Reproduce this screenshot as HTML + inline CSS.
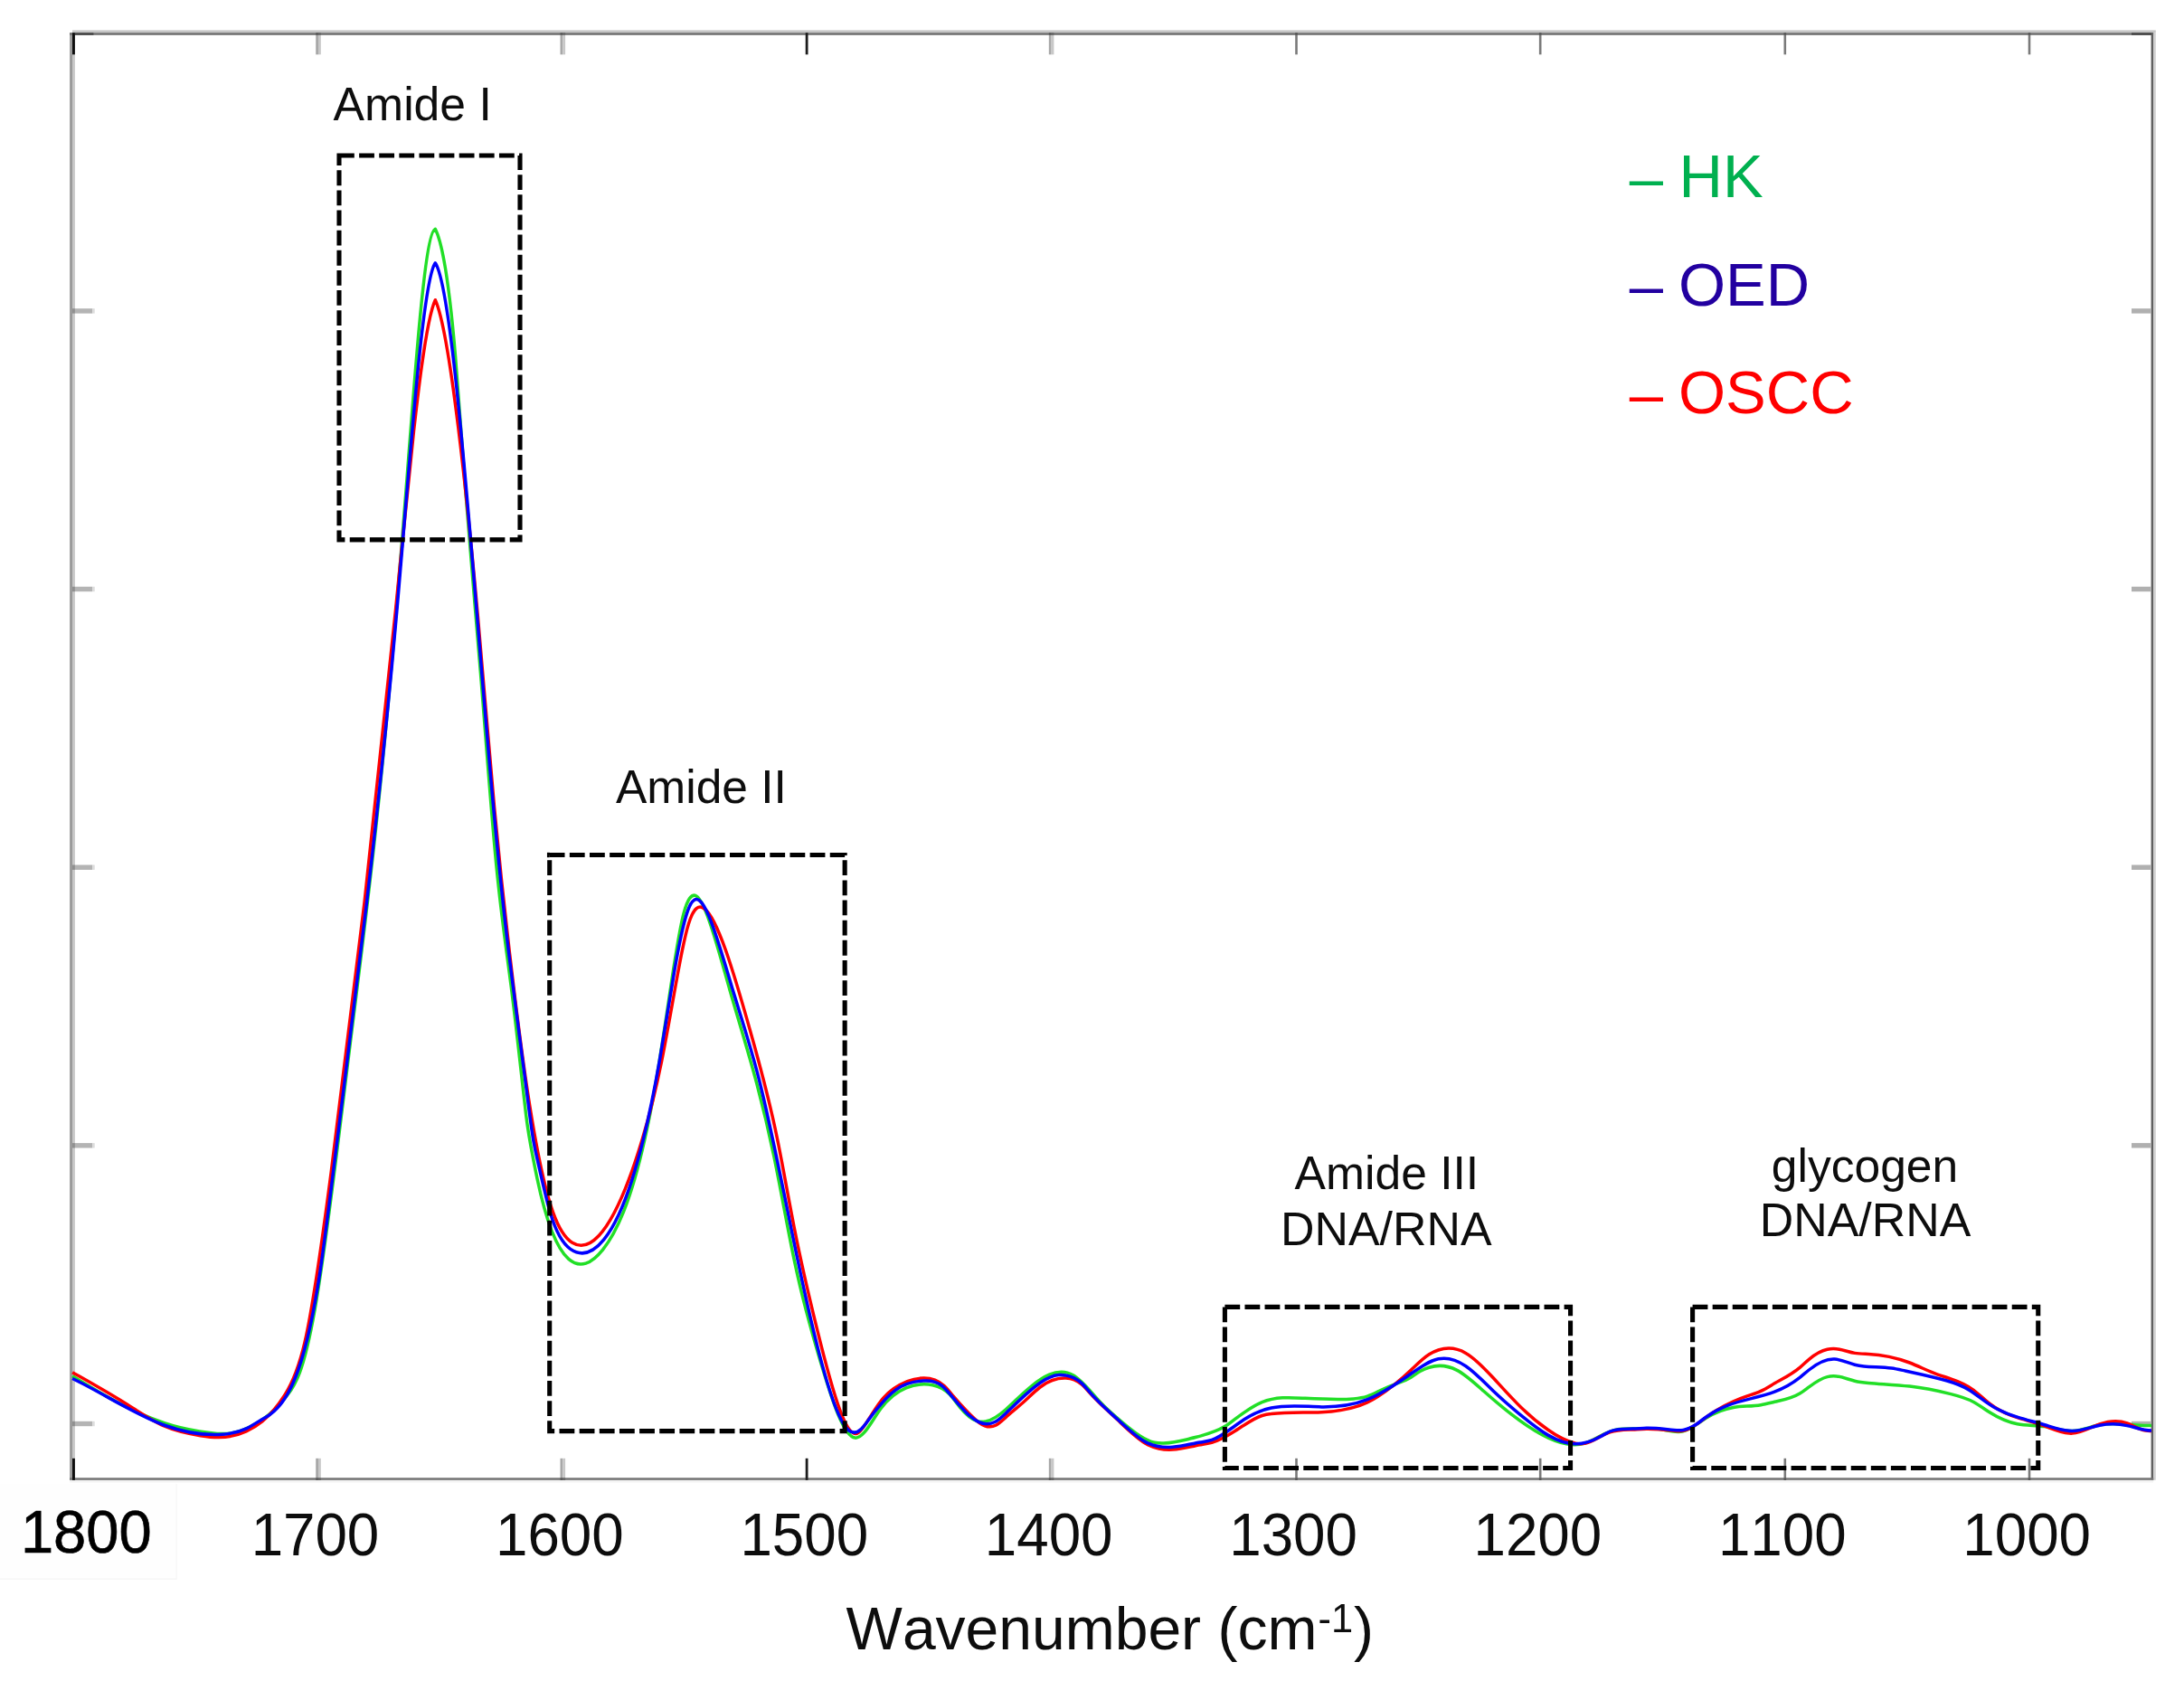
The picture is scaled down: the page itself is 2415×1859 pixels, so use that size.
<!DOCTYPE html>
<html><head><meta charset="utf-8"><title>FTIR spectra</title>
<style>html,body{margin:0;padding:0;background:#fff}svg{display:block}text{font-kerning:none;font-variant-ligatures:none}</style></head>
<body>
<svg width="2415" height="1859" viewBox="0 0 2415 1859" font-family="'Liberation Sans', Arial, Helvetica, sans-serif" style="font-kerning:none">
<defs><filter id="soft" x="0" y="0" width="2415" height="1859" filterUnits="userSpaceOnUse"><feGaussianBlur stdDeviation="0.7"/></filter></defs>
<rect x="0" y="0" width="2415" height="1859" fill="#ffffff"/>
<g filter="url(#soft)">
<rect x="0" y="1641" width="195.5" height="105.5" fill="#fefefe"/>
<rect x="194.5" y="1641" width="1.2" height="105.5" fill="#f6f6f6"/>
<rect x="0" y="1745.6" width="195.5" height="1.2" fill="#f6f6f6"/>
<g>
<rect x="77.1" y="36.2" width="2.9" height="1600.6" fill="#9a9a9a"/>
<rect x="80" y="36.2" width="2.9" height="1600.6" fill="#c8c8c8"/>
<rect x="80" y="33.4" width="2303.8" height="2.8" fill="#c6c6c6"/>
<rect x="77.1" y="36.2" width="2304.2" height="2.6" fill="#707070"/>
<rect x="2378.6" y="36.2" width="2.7" height="1600.6" fill="#606060"/>
<rect x="2381.3" y="36.2" width="2.5" height="1600.6" fill="#d0d0d0"/>
<rect x="77.1" y="1634.3" width="2304.2" height="2.6" fill="#737373"/>
<rect x="77.1" y="1636.9" width="2304.2" height="2.6" fill="#f4f4f4"/>
<rect x="80" y="36.2" width="2.9" height="24.1" fill="#111111"/>
<rect x="80" y="1612.8" width="2.9" height="24.1" fill="#111111"/>
<rect x="349.2" y="38.8" width="2.8" height="21.5" fill="#a8a8a8"/>
<rect x="352.0" y="38.8" width="2.8" height="21.5" fill="#c8c8c8"/>
<rect x="349.2" y="36.2" width="2.8" height="2.6" fill="#585858"/>
<rect x="352.0" y="36.2" width="2.8" height="2.6" fill="#666666"/>
<rect x="349.2" y="1612.8" width="2.8" height="21.5" fill="#a8a8a8"/>
<rect x="352.0" y="1612.8" width="2.8" height="21.5" fill="#c8c8c8"/>
<rect x="349.2" y="1634.3" width="2.8" height="2.6" fill="#585858"/>
<rect x="352.0" y="1634.3" width="2.8" height="2.6" fill="#666666"/>
<rect x="619.5" y="38.8" width="2.8" height="21.5" fill="#a8a8a8"/>
<rect x="622.3" y="38.8" width="2.8" height="21.5" fill="#c8c8c8"/>
<rect x="619.5" y="36.2" width="2.8" height="2.6" fill="#585858"/>
<rect x="622.3" y="36.2" width="2.8" height="2.6" fill="#666666"/>
<rect x="619.5" y="1612.8" width="2.8" height="21.5" fill="#a8a8a8"/>
<rect x="622.3" y="1612.8" width="2.8" height="21.5" fill="#c8c8c8"/>
<rect x="619.5" y="1634.3" width="2.8" height="2.6" fill="#585858"/>
<rect x="622.3" y="1634.3" width="2.8" height="2.6" fill="#666666"/>
<rect x="890.7" y="36.2" width="2.8" height="24.1" fill="#1c1c1c"/>
<rect x="890.7" y="1612.8" width="2.8" height="24.1" fill="#1c1c1c"/>
<rect x="1159.8" y="38.8" width="2.8" height="21.5" fill="#a8a8a8"/>
<rect x="1162.6" y="38.8" width="2.8" height="21.5" fill="#c8c8c8"/>
<rect x="1159.8" y="36.2" width="2.8" height="2.6" fill="#585858"/>
<rect x="1162.6" y="36.2" width="2.8" height="2.6" fill="#666666"/>
<rect x="1159.8" y="1612.8" width="2.8" height="21.5" fill="#a8a8a8"/>
<rect x="1162.6" y="1612.8" width="2.8" height="21.5" fill="#c8c8c8"/>
<rect x="1159.8" y="1634.3" width="2.8" height="2.6" fill="#585858"/>
<rect x="1162.6" y="1634.3" width="2.8" height="2.6" fill="#666666"/>
<rect x="1432.2" y="38.8" width="2.6" height="21.5" fill="#7a7a7a"/>
<rect x="1432.2" y="36.2" width="2.6" height="2.6" fill="#555555"/>
<rect x="1432.2" y="1612.8" width="2.6" height="21.5" fill="#7a7a7a"/>
<rect x="1432.2" y="1634.3" width="2.6" height="2.6" fill="#555555"/>
<rect x="1701.9" y="38.8" width="2.6" height="21.5" fill="#7a7a7a"/>
<rect x="1701.9" y="36.2" width="2.6" height="2.6" fill="#555555"/>
<rect x="1701.9" y="1612.8" width="2.6" height="21.5" fill="#7a7a7a"/>
<rect x="1701.9" y="1634.3" width="2.6" height="2.6" fill="#555555"/>
<rect x="1972.5" y="38.8" width="2.6" height="21.5" fill="#7a7a7a"/>
<rect x="1972.5" y="36.2" width="2.6" height="2.6" fill="#555555"/>
<rect x="1972.5" y="1612.8" width="2.6" height="21.5" fill="#7a7a7a"/>
<rect x="1972.5" y="1634.3" width="2.6" height="2.6" fill="#555555"/>
<rect x="2242.7" y="38.8" width="2.6" height="21.5" fill="#7a7a7a"/>
<rect x="2242.7" y="36.2" width="2.6" height="2.6" fill="#555555"/>
<rect x="2242.7" y="1612.8" width="2.6" height="21.5" fill="#7a7a7a"/>
<rect x="2242.7" y="1634.3" width="2.6" height="2.6" fill="#555555"/>
<rect x="82.9" y="36.2" width="20.5" height="2.6" fill="#4a4a4a"/>
<rect x="2357" y="36.2" width="22" height="2.6" fill="#4a4a4a"/>
<rect x="82.9" y="341.2" width="19.4" height="5.4" fill="#b4b4b4"/>
<rect x="102.3" y="341.2" width="2.4" height="5.4" fill="#dcdcdc"/>
<rect x="80" y="341.2" width="2.9" height="5.4" fill="#909090"/>
<rect x="2357" y="341.2" width="21.6" height="5.4" fill="#b0b0b0"/>
<rect x="82.9" y="648.8" width="19.4" height="5.4" fill="#b4b4b4"/>
<rect x="102.3" y="648.8" width="2.4" height="5.4" fill="#dcdcdc"/>
<rect x="80" y="648.8" width="2.9" height="5.4" fill="#909090"/>
<rect x="2357" y="648.8" width="21.6" height="5.4" fill="#b0b0b0"/>
<rect x="82.9" y="956.5" width="19.4" height="5.4" fill="#b4b4b4"/>
<rect x="102.3" y="956.5" width="2.4" height="5.4" fill="#dcdcdc"/>
<rect x="80" y="956.5" width="2.9" height="5.4" fill="#909090"/>
<rect x="2357" y="956.5" width="21.6" height="5.4" fill="#b0b0b0"/>
<rect x="82.9" y="1264.1" width="19.4" height="5.4" fill="#b4b4b4"/>
<rect x="102.3" y="1264.1" width="2.4" height="5.4" fill="#dcdcdc"/>
<rect x="80" y="1264.1" width="2.9" height="5.4" fill="#909090"/>
<rect x="2357" y="1264.1" width="21.6" height="5.4" fill="#b0b0b0"/>
<rect x="82.9" y="1571.8" width="19.4" height="5.4" fill="#b4b4b4"/>
<rect x="102.3" y="1571.8" width="2.4" height="5.4" fill="#dcdcdc"/>
<rect x="80" y="1571.8" width="2.9" height="5.4" fill="#909090"/>
<rect x="2357" y="1571.8" width="21.6" height="5.4" fill="#b0b0b0"/>
</g>
<path d="M80.1,1521.8C117.2,1544.7 154.3,1566.2 191.4,1576.6C204.9,1580.4 218.3,1582.7 231.8,1584.4C238.5,1585.3 245.3,1586.0 252.0,1585.4C262.1,1584.5 272.3,1580.7 282.4,1574.8C294.4,1567.9 306.4,1558.1 318.4,1542.0C322.7,1536.3 327.0,1529.7 331.3,1518.1C336.8,1503.3 342.4,1480.3 347.9,1449.4C360.1,1381.3 372.3,1275.2 384.5,1176.2C395.4,1087.4 406.4,1004.4 417.3,899.9C428.2,795.7 439.1,670.0 450.0,529.2C454.6,469.8 459.2,407.7 463.8,358.4C469.6,296.1 475.4,254.4 481.3,253.4L481.3,253.3C488.7,267.6 496.1,305.8 503.5,393.3C506.9,433.9 510.4,484.9 513.8,530.7C519.8,610.7 525.8,674.5 531.8,748.8C537.5,819.7 543.3,900.1 549.0,958.5C554.7,1016.3 560.3,1052.5 566.0,1097.2C570.5,1132.7 575.0,1173.7 579.5,1214.3C580.2,1220.9 581.0,1227.5 581.7,1233.4C584.2,1254.0 586.8,1267.0 589.3,1279.9C590.8,1287.8 592.4,1295.6 593.9,1302.9C605.5,1358.2 617.2,1382.3 628.8,1392.4C641.4,1403.3 654.1,1397.6 666.7,1381.8C674.3,1372.4 681.9,1359.2 689.5,1340.2C700.8,1311.9 712.1,1270.6 723.4,1207.4C728.9,1176.8 734.3,1141.1 739.8,1104.3C745.2,1067.9 750.6,1030.4 756.0,1010.1C764.7,977.6 773.3,989.5 782.0,1012.2C790.3,1033.9 798.6,1065.4 806.9,1094.5C823.3,1151.9 839.6,1200.0 856.0,1279.6C863.6,1316.7 871.3,1360.6 878.9,1396.7C888.4,1441.9 898.0,1474.8 907.5,1506.5C920.2,1548.7 932.8,1588.9 945.5,1590.1C954.3,1591.0 963.2,1573.0 972.0,1560.4C982.0,1546.2 992.0,1539.0 1002.0,1534.9C1011.8,1530.8 1021.5,1529.8 1031.3,1531.7C1037.7,1532.9 1044.1,1535.5 1050.5,1542.4C1053.9,1546.1 1057.2,1550.9 1060.6,1555.2C1067.3,1563.7 1074.1,1569.8 1080.8,1571.7C1084.1,1572.6 1087.3,1572.5 1090.6,1571.8C1097.8,1570.1 1105.0,1565.1 1112.2,1558.7C1115.6,1555.8 1118.9,1552.5 1122.3,1549.3C1135.0,1537.3 1147.6,1525.7 1160.3,1520.2C1169.1,1516.5 1177.8,1515.7 1186.6,1520.8C1196.4,1526.4 1206.2,1539.4 1216.0,1549.9C1222.7,1557.1 1229.5,1563.1 1236.2,1568.9C1242.9,1574.8 1249.7,1580.4 1256.4,1585.2C1263.2,1590.0 1269.9,1593.9 1276.7,1595.3C1280.1,1596.0 1283.4,1596.1 1286.8,1596.0C1295.2,1595.7 1303.7,1594.1 1312.1,1592.0C1317.1,1590.8 1322.2,1589.4 1327.2,1588.1C1336.2,1585.6 1345.2,1583.2 1354.2,1577.6C1357.9,1575.3 1361.6,1572.4 1365.3,1569.6C1375.4,1562.0 1385.5,1554.8 1395.6,1550.7C1410.8,1544.5 1426.0,1545.4 1441.2,1546.2C1459.7,1547.2 1478.3,1548.3 1496.8,1546.9C1501.9,1546.5 1506.9,1545.9 1512.0,1544.2C1517.0,1542.6 1522.1,1539.8 1527.1,1537.3C1532.2,1534.9 1537.2,1532.7 1542.3,1530.8C1548.2,1528.6 1554.2,1526.8 1560.1,1523.2C1563.5,1521.2 1566.8,1518.6 1570.2,1516.6C1573.6,1514.6 1576.9,1513.2 1580.3,1512.2C1590.4,1509.1 1600.6,1509.9 1610.7,1515.1C1620.8,1520.3 1630.9,1529.8 1641.0,1538.8C1651.1,1547.8 1661.3,1556.3 1671.4,1564.2C1691.6,1579.9 1711.9,1593.4 1732.1,1596.9C1738.8,1598.1 1745.6,1598.2 1752.3,1596.1C1758.2,1594.3 1764.2,1590.8 1770.1,1587.8C1776.8,1584.4 1783.6,1581.7 1790.3,1580.6C1795.4,1579.8 1800.4,1580.0 1805.5,1580.0C1815.6,1579.9 1825.8,1578.9 1835.9,1580.5C1844.3,1581.8 1852.8,1584.9 1861.2,1582.9C1869.6,1580.8 1878.0,1573.7 1886.4,1568.3C1896.5,1561.9 1906.7,1558.0 1916.8,1556.4C1926.9,1554.8 1937.0,1555.4 1947.1,1553.7C1952.2,1552.9 1957.2,1551.5 1962.3,1550.3C1971.6,1548.2 1980.9,1546.7 1990.2,1541.0C1993.6,1539.0 1996.9,1536.3 2000.3,1533.8C2007.1,1528.8 2013.8,1524.3 2020.6,1522.6C2024.0,1521.7 2027.3,1521.6 2030.7,1521.9C2037.4,1522.7 2044.2,1525.6 2050.9,1527.2C2056.0,1528.5 2061.0,1529.0 2066.1,1529.4C2081.3,1530.7 2096.4,1531.3 2111.6,1533.1C2126.8,1534.9 2141.9,1537.9 2157.1,1541.6C2165.5,1543.7 2174.0,1545.9 2182.4,1550.5C2188.4,1553.8 2194.3,1558.2 2200.3,1562.0C2210.4,1568.4 2220.6,1572.8 2230.7,1574.7C2240.8,1576.6 2250.9,1576.1 2261.0,1577.6C2271.1,1579.1 2281.3,1582.8 2291.4,1582.4C2301.5,1582.1 2311.6,1577.8 2321.7,1575.8C2331.8,1573.8 2342.0,1574.2 2352.1,1575.0C2361.1,1575.8 2370.0,1577.0 2379.0,1576.4" fill="none" stroke="#20df28" stroke-width="3.5" stroke-linejoin="round" stroke-miterlimit="2"/>
<path d="M80.1,1517.7C100.3,1529.2 120.6,1540.5 140.8,1553.3C154.3,1561.9 167.8,1571.1 181.3,1577.0C194.8,1582.9 208.2,1585.6 221.7,1587.7C228.5,1588.8 235.2,1589.7 242.0,1589.6C252.1,1589.6 262.2,1587.5 272.3,1582.9C278.2,1580.2 284.1,1576.7 290.0,1571.9C298.3,1565.1 306.6,1555.9 314.9,1542.8C322.3,1531.1 329.6,1516.3 337.0,1484.5C346.7,1442.4 356.5,1370.6 366.2,1296.2C378.5,1202.4 390.7,1104.5 403.0,998.0C414.5,897.8 426.1,790.0 437.6,673.5C444.2,606.5 450.9,536.7 457.5,476.9C460.4,451.1 463.2,427.2 466.1,406.4C471.2,369.6 476.2,342.4 481.3,331.7L481.3,331.7C489.8,349.9 498.3,403.9 506.8,473.1C514.0,531.3 521.1,600.3 528.3,681.0C534.4,749.3 540.4,826.1 546.5,891.9C552.2,953.4 557.8,1005.3 563.5,1054.0C570.2,1111.3 576.8,1164.1 583.5,1208.2C592.9,1270.1 602.2,1314.7 611.6,1340.9C618.7,1360.7 625.7,1369.9 632.8,1374.3C642.6,1380.4 652.4,1377.0 662.2,1366.5C678.2,1349.4 694.2,1313.3 710.2,1259.9C717.4,1236.0 724.5,1208.6 731.7,1173.1C737.5,1144.6 743.2,1110.8 749.0,1079.2C753.1,1056.7 757.2,1035.3 761.3,1022.0C767.2,1002.9 773.1,1000.5 779.0,1005.0C787.7,1011.5 796.4,1032.8 805.1,1058.5C814.6,1086.8 824.2,1120.4 833.7,1154.8C842.3,1185.8 850.9,1217.4 859.5,1259.4C865.7,1289.7 871.9,1325.4 878.1,1357.0C886.5,1399.8 894.9,1435.0 903.3,1469.1C912.7,1507.2 922.0,1543.8 931.4,1566.1C936.8,1578.9 942.1,1587.0 947.5,1585.3C950.7,1584.2 953.8,1579.8 957.0,1575.0C963.6,1565.0 970.1,1553.8 976.7,1546.2C980.5,1541.7 984.4,1538.5 988.2,1535.8C999.2,1527.9 1010.2,1524.1 1021.2,1524.0C1028.8,1523.9 1036.4,1525.5 1044.0,1532.6C1047.3,1535.7 1050.7,1539.9 1054.0,1543.9C1060.7,1551.8 1067.3,1558.9 1074.0,1565.5C1077.0,1568.5 1080.0,1571.3 1083.0,1573.5C1089.0,1577.8 1095.0,1579.3 1101.0,1576.3C1104.7,1574.4 1108.5,1570.7 1112.2,1567.4C1118.9,1561.3 1125.7,1556.1 1132.4,1550.0C1138.3,1544.6 1144.3,1538.5 1150.2,1534.0C1159.7,1526.8 1169.1,1523.7 1178.6,1524.1C1184.3,1524.4 1190.0,1525.9 1195.7,1530.7C1199.1,1533.5 1202.5,1537.5 1205.9,1541.2C1216.0,1552.2 1226.1,1561.1 1236.2,1570.6C1246.3,1580.2 1256.5,1590.3 1266.6,1596.2C1276.7,1602.1 1286.8,1603.8 1296.9,1603.1C1307.0,1602.5 1317.1,1599.5 1327.2,1597.7C1331.5,1597.0 1335.7,1596.4 1340.0,1595.2C1348.4,1592.9 1356.9,1588.0 1365.3,1582.7C1368.7,1580.6 1372.0,1578.4 1375.4,1576.3C1382.1,1571.9 1388.9,1567.6 1395.6,1565.5C1399.0,1564.4 1402.3,1563.9 1405.7,1563.6C1424.3,1561.5 1442.8,1562.5 1461.4,1561.7C1478.3,1561.0 1495.1,1558.8 1512.0,1550.8C1528.0,1543.1 1544.1,1530.3 1560.1,1515.2C1566.8,1508.9 1573.6,1502.1 1580.3,1497.8C1583.7,1495.6 1587.1,1494.1 1590.5,1493.0C1600.6,1489.7 1610.7,1490.6 1620.8,1496.4C1630.9,1502.1 1641.1,1512.8 1651.2,1523.8C1661.3,1534.8 1671.4,1546.2 1681.5,1556.0C1691.6,1565.9 1701.7,1574.3 1711.8,1581.3C1721.9,1588.4 1732.1,1594.2 1742.2,1596.1C1745.6,1596.7 1748.9,1596.9 1752.3,1596.3C1758.2,1595.2 1764.2,1591.6 1770.1,1588.4C1773.5,1586.7 1776.8,1585.0 1780.2,1583.9C1788.6,1581.0 1797.1,1581.2 1805.5,1580.9C1810.6,1580.7 1815.6,1580.3 1820.7,1580.3C1830.8,1580.1 1840.9,1581.2 1851.0,1582.3C1854.4,1582.6 1857.8,1583.0 1861.2,1582.4C1869.6,1580.9 1878.0,1573.5 1886.4,1567.4C1896.5,1560.0 1906.7,1554.2 1916.8,1549.8C1921.9,1547.5 1926.9,1545.6 1932.0,1543.9C1937.0,1542.2 1942.1,1540.8 1947.1,1538.4C1952.2,1536.0 1957.2,1532.8 1962.3,1529.8C1971.6,1524.5 1980.9,1520.1 1990.2,1512.3C1993.6,1509.4 1996.9,1506.1 2000.3,1503.3C2007.1,1497.5 2013.8,1493.7 2020.6,1492.2C2024.0,1491.5 2027.3,1491.3 2030.7,1491.7C2037.4,1492.4 2044.2,1495.2 2050.9,1496.4C2056.0,1497.3 2061.0,1497.2 2066.1,1497.4C2081.3,1498.0 2096.4,1501.2 2111.6,1507.0C2121.7,1510.9 2131.9,1516.1 2142.0,1519.8C2147.0,1521.6 2152.1,1523.1 2157.1,1524.8C2165.5,1527.6 2174.0,1530.9 2182.4,1537.3C2188.4,1541.8 2194.3,1547.9 2200.3,1552.5C2210.4,1560.5 2220.6,1564.4 2230.7,1567.7C2240.8,1570.9 2250.9,1573.4 2261.0,1577.1C2271.1,1580.8 2281.3,1585.7 2291.4,1585.1C2301.5,1584.6 2311.6,1578.6 2321.7,1575.0C2331.8,1571.4 2342.0,1570.2 2352.1,1574.0C2358.8,1576.4 2365.6,1581.1 2372.3,1582.0C2374.5,1582.3 2376.8,1582.2 2379.0,1582.7" fill="none" stroke="#ff0000" stroke-width="3.5" stroke-linejoin="round" stroke-miterlimit="2"/>
<path d="M80.1,1524.5C113.8,1540.6 147.6,1563.6 181.3,1576.0C201.5,1583.4 221.8,1587.1 242.0,1586.4C252.1,1586.1 262.2,1584.7 272.3,1579.9C278.2,1577.0 284.1,1573.0 290.0,1569.5C292.8,1567.8 295.7,1566.3 298.5,1564.3C308.9,1557.0 319.4,1544.3 329.8,1514.8C337.8,1492.2 345.8,1459.8 353.8,1407.2C358.7,1374.8 363.7,1334.7 368.6,1295.2C380.9,1196.8 393.2,1102.2 405.5,998.2C416.6,904.4 427.7,802.9 438.8,675.8C453.0,513.8 467.1,310.2 481.3,290.8L481.3,290.8C502.7,321.5 524.1,659.6 545.5,891.0C551.2,952.3 556.8,1006.0 562.5,1053.1C569.2,1108.4 575.8,1154.5 582.5,1207.5C584.9,1226.8 587.4,1247.1 589.8,1261.2C591.2,1269.1 592.5,1275.1 593.9,1281.1C598.8,1302.7 603.7,1325.5 608.6,1341.7C616.0,1366.3 623.4,1376.0 630.8,1381.3C643.1,1389.9 655.4,1386.1 667.7,1370.9C682.2,1353.1 696.7,1319.4 711.2,1260.7C717.3,1236.1 723.4,1207.0 729.5,1171.9C735.0,1140.2 740.6,1103.5 746.1,1071.8C751.5,1040.8 756.9,1014.6 762.3,1002.7C769.6,986.6 776.9,996.5 784.2,1013.9C792.9,1034.7 801.6,1066.0 810.3,1094.8C819.9,1126.5 829.5,1155.0 839.1,1192.7C853.3,1248.5 867.6,1324.3 881.8,1392.1C891.2,1436.9 900.6,1478.2 910.0,1512.4C919.4,1546.6 928.8,1573.6 938.2,1581.6C942.9,1585.6 947.7,1584.7 952.4,1580.2C955.1,1577.6 957.8,1573.8 960.5,1570.1C970.6,1556.3 980.7,1544.0 990.8,1536.8C1000.9,1529.5 1011.1,1527.5 1021.2,1527.0C1027.9,1526.6 1034.7,1527.0 1041.4,1532.4C1044.8,1535.1 1048.1,1539.0 1051.5,1543.0C1058.2,1551.0 1065.0,1559.3 1071.7,1565.3C1075.1,1568.3 1078.4,1570.7 1081.8,1572.4C1087.9,1575.3 1094.0,1575.7 1100.1,1572.5C1104.1,1570.4 1108.2,1566.7 1112.2,1562.9C1124.9,1550.9 1137.5,1537.9 1150.2,1529.2C1157.0,1524.6 1163.7,1521.2 1170.5,1520.6C1173.2,1520.3 1175.9,1520.5 1178.6,1521.0C1184.3,1521.9 1190.0,1524.2 1195.7,1529.4C1199.1,1532.5 1202.5,1536.8 1205.9,1540.6C1216.0,1552.1 1226.1,1560.8 1236.2,1570.0C1246.3,1579.2 1256.5,1589.1 1266.6,1594.6C1276.7,1600.1 1286.8,1601.2 1296.9,1600.3C1307.0,1599.5 1317.1,1596.7 1327.2,1595.0C1331.5,1594.3 1335.7,1593.8 1340.0,1592.4C1351.8,1588.5 1363.6,1577.6 1375.4,1570.0C1385.5,1563.4 1395.6,1559.2 1405.7,1557.0C1424.3,1553.0 1442.8,1555.6 1461.4,1555.9C1478.3,1556.1 1495.1,1554.4 1512.0,1547.7C1528.0,1541.4 1544.1,1530.6 1560.1,1519.3C1570.2,1512.2 1580.4,1504.9 1590.5,1502.8C1600.6,1500.7 1610.7,1503.8 1620.8,1510.7C1630.9,1517.6 1641.1,1528.4 1651.2,1538.2C1661.3,1547.9 1671.4,1556.6 1681.5,1564.9C1701.7,1581.6 1722.0,1596.8 1742.2,1596.8C1751.5,1596.9 1760.8,1593.7 1770.1,1588.5C1773.5,1586.6 1776.8,1584.5 1780.2,1583.0C1788.6,1579.4 1797.1,1580.4 1805.5,1580.1C1810.6,1580.0 1815.6,1579.4 1820.7,1579.3C1830.8,1579.1 1840.9,1580.5 1851.0,1581.4C1854.4,1581.7 1857.8,1581.9 1861.2,1581.4C1866.2,1580.6 1871.3,1578.2 1876.3,1574.8C1879.7,1572.4 1883.0,1569.6 1886.4,1567.2C1911.7,1548.6 1937.0,1548.7 1962.3,1539.2C1971.6,1535.6 1980.9,1530.8 1990.2,1523.4C1993.6,1520.7 1996.9,1517.7 2000.3,1515.0C2009.8,1507.5 2019.2,1502.5 2028.7,1503.1C2036.1,1503.5 2043.5,1507.3 2050.9,1509.2C2054.3,1510.1 2057.6,1510.6 2061.0,1510.9C2071.1,1511.9 2081.3,1511.6 2091.4,1513.0C2096.5,1513.7 2101.5,1514.9 2106.6,1516.0C2121.8,1519.3 2136.9,1522.4 2152.1,1526.8C2160.5,1529.2 2169.0,1532.1 2177.4,1537.2C2185.0,1541.9 2192.7,1548.3 2200.3,1553.4C2210.4,1560.0 2220.6,1564.1 2230.7,1567.2C2240.8,1570.4 2250.9,1572.7 2261.0,1575.7C2271.1,1578.8 2281.3,1582.6 2291.4,1582.5C2301.5,1582.4 2311.6,1578.3 2321.7,1576.3C2331.8,1574.2 2342.0,1574.3 2352.1,1576.6C2361.1,1578.5 2370.0,1582.1 2379.0,1582.1" fill="none" stroke="#0000ff" stroke-width="3.5" stroke-linejoin="round" stroke-miterlimit="2"/>
<rect x="375.0" y="172.05" width="200.00" height="424.85" fill="none" stroke="#000000" stroke-width="5.1" stroke-dasharray="16.8 5.320"/>
<rect x="607.7" y="945.5" width="326.45" height="637.10" fill="none" stroke="#000000" stroke-width="5.1" stroke-dasharray="16.8 5.347"/>
<rect x="1354.4" y="1445.4" width="382.15" height="178.05" fill="none" stroke="#000000" stroke-width="5.1" stroke-dasharray="16.8 5.270"/>
<rect x="1871.6" y="1445.4" width="382.15" height="178.05" fill="none" stroke="#000000" stroke-width="5.1" stroke-dasharray="16.8 5.270"/>
<rect x="604.95" y="942.8" width="2.8" height="5.4" fill="#000000"/>
<text x="368.6" y="133.4" font-size="51.7" fill="#111111" text-anchor="start" >Amide I</text>
<text x="681.0" y="887.5" font-size="51.5" fill="#111111" text-anchor="start" >Amide II</text>
<text x="1533.4" y="1315.4" font-size="51.6" fill="#111111" text-anchor="middle" >Amide III</text>
<text x="1532.8" y="1377.3" font-size="51.9" fill="#111111" text-anchor="middle" >DNA/RNA</text>
<text x="2062" y="1307.0" font-size="51.6" fill="#111111" text-anchor="middle" >glycogen</text>
<text x="2062.5" y="1367.3" font-size="51.9" fill="#111111" text-anchor="middle" >DNA/RNA</text>
<text x="1801.8" y="219.7" font-size="67" fill="#00b050" text-anchor="start" >–</text>
<text x="1856.6" y="218.2" font-size="67" fill="#00b050" text-anchor="start" >HK</text>
<text x="1801.8" y="339.0" font-size="67" fill="#2200a0" text-anchor="start" >–</text>
<text x="1856.0" y="337.5" font-size="67" fill="#2200a0" text-anchor="start" >OED</text>
<text x="1801.8" y="458.9" font-size="67" fill="#ff0000" text-anchor="start" >–</text>
<text x="1856.0" y="457.4" font-size="67" fill="#ff0000" text-anchor="start" >OSCC</text>
<text transform="translate(419.3,1720.3) scale(0.965,1)" font-size="66" fill="#0a0a0a" text-anchor="end">1700</text>
<text transform="translate(689.7,1720.3) scale(0.965,1)" font-size="66" fill="#0a0a0a" text-anchor="end">1600</text>
<text transform="translate(960.1,1720.3) scale(0.965,1)" font-size="66" fill="#0a0a0a" text-anchor="end">1500</text>
<text transform="translate(1230.5,1720.3) scale(0.965,1)" font-size="66" fill="#0a0a0a" text-anchor="end">1400</text>
<text transform="translate(1500.9,1720.3) scale(0.965,1)" font-size="66" fill="#0a0a0a" text-anchor="end">1300</text>
<text transform="translate(1771.2,1720.3) scale(0.965,1)" font-size="66" fill="#0a0a0a" text-anchor="end">1200</text>
<text transform="translate(2041.6,1720.3) scale(0.965,1)" font-size="66" fill="#0a0a0a" text-anchor="end">1100</text>
<text transform="translate(2312.0,1720.3) scale(0.965,1)" font-size="66" fill="#0a0a0a" text-anchor="end">1000</text>
<text transform="translate(167.6,1717.0) scale(0.986,1)" font-size="66" fill="#050505" stroke="#050505" stroke-width="0.7" text-anchor="end">1800</text>
<text x="935.6" y="1824.3" font-size="66.0" fill="#0a0a0a" text-anchor="start" >Wavenumber (cm</text>
<text x="1457.4" y="1804.6" font-size="43.5" fill="#0a0a0a" text-anchor="start" >-1</text>
<text x="1497.0" y="1824.3" font-size="65.8" fill="#0a0a0a" text-anchor="start" >)</text>
</g>
</svg>
</body></html>
